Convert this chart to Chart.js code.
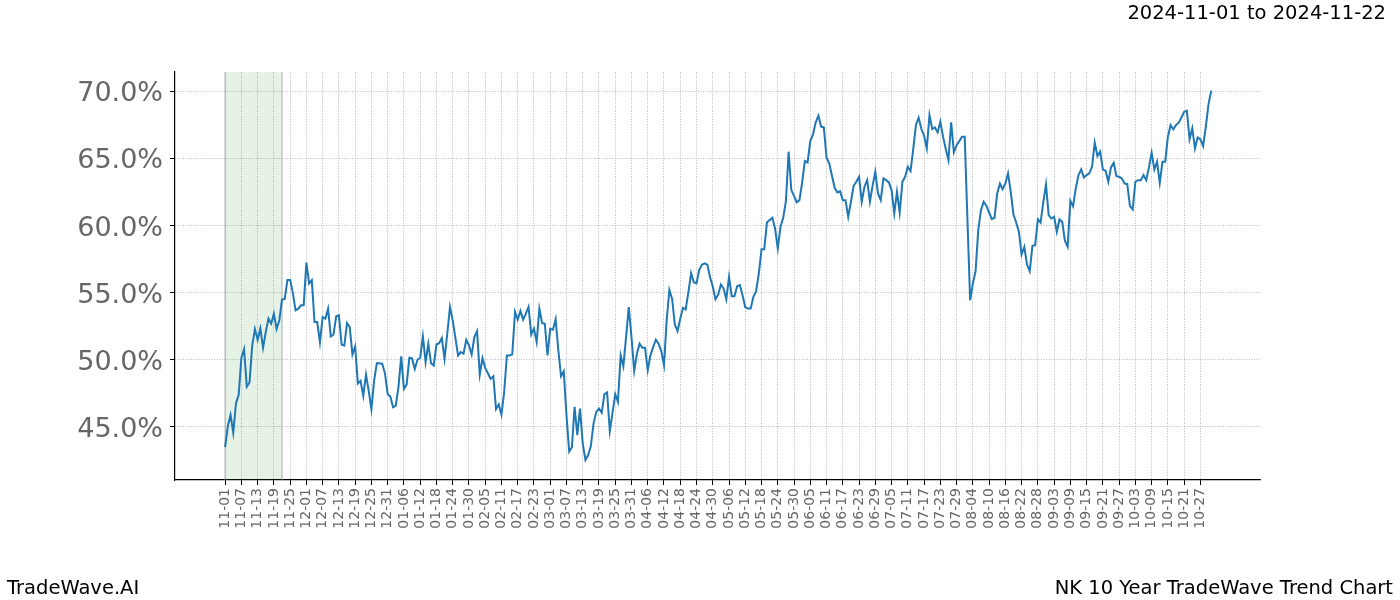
<!DOCTYPE html>
<html>
<head>
<meta charset="utf-8">
<script src="https://cdn.jsdelivr.net/npm/chart.js@4/dist/chart.umd.min.js"></script>
<style>
  body { margin: 0; background: #fff; }
  #wrap { position: relative; width: 1400px; height: 600px; font-family: 'DejaVu Sans', sans-serif; }
  .note { position: absolute; font-size: 19.5px; line-height: 1; color: #000; white-space: nowrap; }
</style>
</head>
<body>
<div id="wrap">
  <canvas id="trendCanvas" width="1400" height="600"></canvas>
  <div class="note" style="right:14px; top:3px;">2024-11-01 to 2024-11-22</div>
  <div class="note" style="left:7px; top:578px;">TradeWave.AI</div>
  <div class="note" style="right:7px; top:578px;">NK 10 Year TradeWave Trend Chart</div>
</div>
<script>
// one value per calendar day, starting 2024-11-01 (day 0)
const trendValues = [
  43.48, 45.05, 45.88, 44.55, 46.73, 47.38, 50.13, 50.78, 47.98, 48.30,
  51.05, 52.28, 51.48, 52.33, 50.88, 52.05, 53.05, 52.68, 53.43, 52.28,
  52.93, 54.48, 54.53, 55.93, 55.93, 54.98, 53.68, 53.80, 54.05, 54.05,
  57.23, 55.68, 55.93, 52.80, 52.80, 51.30, 53.18, 53.05, 53.80, 51.73,
  51.88, 53.23, 53.30, 51.13, 51.05, 52.73, 52.43, 50.38, 50.98, 48.23,
  48.43, 47.30, 48.88, 47.68, 46.30, 48.43, 49.73, 49.73, 49.68, 48.98,
  47.44, 47.24, 46.45, 46.57, 47.99, 50.24, 47.82, 48.14, 50.14, 50.09,
  49.31, 49.99, 50.14, 51.73, 49.81, 51.18, 49.74, 49.56, 51.13, 51.23,
  51.61, 50.06, 51.93, 53.93, 52.93, 51.63, 50.31, 50.56, 50.44, 51.48,
  51.06, 50.39, 51.68, 52.13, 48.89, 50.11, 49.39, 48.99, 48.57, 48.77,
  46.32, 46.65, 45.90, 47.57, 50.31, 50.31, 50.39, 53.55, 52.98, 53.63,
  52.98, 53.43, 53.93, 51.88, 52.31, 51.31, 53.80, 52.73, 52.68, 50.31,
  52.30, 52.23, 53.02, 50.69, 48.76, 49.13, 45.87, 43.14, 43.47, 46.49,
  44.38, 46.36, 43.76, 42.52, 42.89, 43.56, 45.25, 46.11, 46.36, 46.04,
  47.43, 47.55, 44.68, 46.04, 47.43, 46.86, 50.32, 49.50, 51.68, 53.91,
  51.68, 49.16, 50.45, 51.19, 50.89, 50.89, 49.21, 50.32, 50.94, 51.49,
  51.19, 50.64, 49.58, 52.97, 55.20, 54.53, 52.62, 52.13, 53.04, 53.86,
  53.74, 55.02, 56.44, 55.77, 55.69, 56.68, 57.08, 57.18, 57.08, 56.14,
  55.45, 54.50, 54.85, 55.60, 55.30, 54.50, 56.17, 54.73, 54.73, 55.47,
  55.55, 54.80, 53.91, 53.81, 53.81, 54.68, 55.10, 56.42, 58.23, 58.23,
  60.22, 60.40, 60.57, 59.78, 58.28, 59.90, 60.57, 61.82, 65.50, 62.64,
  62.21, 61.72, 61.89, 63.21, 64.80, 64.70, 66.29, 66.79, 67.69, 68.18,
  67.36, 67.31, 65.05, 64.63, 63.71, 62.81, 62.46, 62.56, 61.89, 61.89,
  60.65, 61.77, 62.96, 63.26, 63.63, 61.77, 62.89, 63.38, 61.77, 62.96,
  64.00, 62.39, 61.89, 63.51, 63.38, 63.21, 62.64, 60.90, 62.51, 60.97,
  63.26, 63.63, 64.38, 64.05, 65.70, 67.49, 68.03, 67.19, 66.69, 65.75,
  68.23, 67.19, 67.31, 66.94, 67.74, 66.62, 65.70, 64.88, 67.69, 65.45,
  65.99, 66.29, 66.62, 66.62, 60.50, 54.43, 55.67, 56.59, 59.65, 61.14,
  61.77, 61.47, 60.97, 60.47, 60.57, 62.39, 63.13, 62.71, 63.13, 63.88,
  62.51, 60.82, 60.22, 59.53, 57.84, 58.41, 57.09, 56.59, 58.48, 58.53,
  60.47, 60.22, 61.72, 63.06, 60.77, 60.52, 60.65, 59.53, 60.45, 60.27,
  58.86, 58.41, 61.84, 61.44, 62.76, 63.76, 64.18, 63.58, 63.76, 63.88,
  64.38, 66.17, 65.17, 65.50, 64.18, 64.08, 63.26, 64.33, 64.68, 63.68,
  63.63, 63.51, 63.13, 63.08, 61.44, 61.19, 63.26, 63.38, 63.38, 63.76,
  63.38, 64.33, 65.42, 64.18, 64.75, 63.18, 64.75, 64.75, 66.62, 67.49,
  67.16, 67.49, 67.66, 68.06, 68.48, 68.56, 66.42, 67.24, 65.75, 66.57,
  66.42, 65.92, 67.36, 69.05, 70.05
];

const tickLabels = [
  '11-01', '11-07', '11-13', '11-19', '11-25', '12-01', '12-07', '12-13', '12-19', '12-25',
  '12-31', '01-06', '01-12', '01-18', '01-24', '01-30', '02-05', '02-11', '02-17', '02-23',
  '03-01', '03-07', '03-13', '03-19', '03-25', '03-31', '04-06', '04-12', '04-18', '04-24',
  '04-30', '05-06', '05-12', '05-18', '05-24', '05-30', '06-05', '06-11', '06-17', '06-23',
  '06-29', '07-05', '07-11', '07-17', '07-23', '07-29', '08-04', '08-10', '08-16', '08-22',
  '08-28', '09-03', '09-09', '09-15', '09-21', '09-27', '10-03', '10-09', '10-15', '10-21',
  '10-27'
];
const tickDays = tickLabels.map((label, i) => i * 6);   // one label every 6 days

const yTicks = [45, 50, 55, 60, 65, 70];
const shadeDays = [0, 21];   // 2024-11-01 .. 2024-11-22

const gridColor = '#a6a6a6';
const labelColor = '#666666';

const shadePlugin = {
  id: 'shadePlugin',
  beforeDatasetsDraw(chart) {
    const { ctx, chartArea, scales } = chart;
    const x0 = scales.x.getPixelForValue(shadeDays[0]);
    const x1 = scales.x.getPixelForValue(shadeDays[1]);
    ctx.save();
    ctx.fillStyle = 'rgba(0, 128, 0, 0.1)';
    ctx.fillRect(x0, chartArea.top, x1 - x0, chartArea.bottom - chartArea.top);
    ctx.strokeStyle = 'rgba(140, 140, 140, 0.35)';
    ctx.lineWidth = 2;
    ctx.beginPath();
    ctx.moveTo(x0, chartArea.top);
    ctx.lineTo(x0, chartArea.bottom);
    ctx.moveTo(x1, chartArea.top);
    ctx.lineTo(x1, chartArea.bottom);
    ctx.stroke();
    ctx.restore();
  }
};

const gridOptions = {
  color: gridColor,
  lineWidth: 0.8,
  drawTicks: true,
  tickLength: 5,
  tickColor: '#000',
  tickWidth: 1,
  tickBorderDash: []
};

new Chart(document.getElementById('trendCanvas'), {
  type: 'line',
  data: {
    datasets: [{
      data: trendValues.map((v, i) => ({ x: i, y: v })),
      borderColor: '#1f77b4',
      borderWidth: 2,
      pointRadius: 0,
      tension: 0,
      fill: false
    }]
  },
  options: {
    responsive: false,
    animation: false,
    devicePixelRatio: 1,
    layout: { padding: { top: 72, right: 140, left: 0, bottom: 0 } },
    plugins: {
      legend: { display: false },
      tooltip: { enabled: false }
    },
    scales: {
      x: {
        type: 'linear',
        min: -18.5,
        max: 382,
        afterBuildTicks: axis => {
          axis.ticks = tickDays.map(v => ({ value: v }));
        },
        afterFit: axis => { axis.height = 120; },
        ticks: {
          autoSkip: false,
          minRotation: 90,
          maxRotation: 90,
          padding: 3,
          color: labelColor,
          font: { family: 'DejaVu Sans', size: 14 },
          callback: (value, index) => tickLabels[index]
        },
        grid: gridOptions,
        border: { display: true, color: '#000', width: 1.2, dash: [1, 1.6] }
      },
      y: {
        type: 'linear',
        min: 41.03,
        max: 71.44,
        afterBuildTicks: axis => {
          axis.ticks = yTicks.map(v => ({ value: v }));
        },
        afterFit: axis => { axis.width = 175; },
        ticks: {
          padding: 7,
          labelOffset: 3,
          color: labelColor,
          font: { family: 'DejaVu Sans', size: 27 },
          callback: value => value.toFixed(1) + '%'
        },
        grid: gridOptions,
        border: { display: true, color: '#000', width: 1.2, dash: [1, 1.6] }
      }
    }
  },
  plugins: [shadePlugin]
});
</script>
</body>
</html>
